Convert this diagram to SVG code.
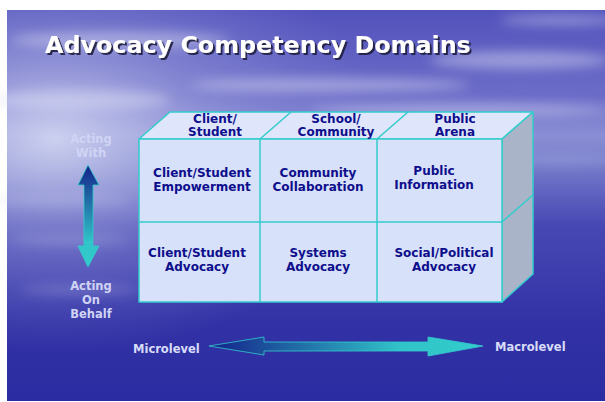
<svg xmlns="http://www.w3.org/2000/svg" width="605" height="402" viewBox="0 0 605 402">
<defs>
<linearGradient id="bg" x1="0" y1="0" x2="0" y2="1">
<stop offset="0" stop-color="#5252bc"/>
<stop offset="0.22" stop-color="#6c6cc8"/>
<stop offset="0.32" stop-color="#8a8ed4"/>
<stop offset="0.38" stop-color="#7a80cc"/>
<stop offset="0.55" stop-color="#4848b4"/>
<stop offset="0.8" stop-color="#3232a6"/>
<stop offset="1" stop-color="#2c2ca2"/>
</linearGradient>
<radialGradient id="haze" cx="0.08" cy="0.33" r="0.55">
<stop offset="0" stop-color="#d8dcf4" stop-opacity="0.85"/>
<stop offset="0.5" stop-color="#b0b4e4" stop-opacity="0.35"/>
<stop offset="1" stop-color="#9094d8" stop-opacity="0"/>
</radialGradient>
<filter id="blur" x="-20%" y="-50%" width="140%" height="200%"><feGaussianBlur stdDeviation="6"/></filter>
<filter id="shadow" x="-5%" y="-20%" width="110%" height="150%"><feDropShadow dx="2" dy="2" stdDeviation="0.6" flood-color="#1a1a40" flood-opacity="0.9"/></filter>
<linearGradient id="vgrad" x1="0" y1="0" x2="0" y2="1">
<stop offset="0" stop-color="#14208a"/>
<stop offset="0.75" stop-color="#30c4c8"/>
<stop offset="1" stop-color="#33cccc"/>
</linearGradient>
<linearGradient id="hgrad" x1="0" y1="0" x2="1" y2="0">
<stop offset="0" stop-color="#14208a"/>
<stop offset="0.7" stop-color="#30c4c8"/>
<stop offset="1" stop-color="#33cccc"/>
</linearGradient>
<style>
.cell{font-family:"DejaVu Sans","Verdana",sans-serif;font-weight:bold;font-size:12px;fill:#0e0e8c;text-anchor:middle}
.side{font-family:"DejaVu Sans","Verdana",sans-serif;font-weight:bold;font-size:11.5px;fill:#d0d4f4;text-anchor:middle}
.lvl{font-family:"DejaVu Sans","Verdana",sans-serif;font-weight:bold;font-size:11.5px;fill:#d8dcf8}
.face{stroke:#33cccc;stroke-width:1.5;stroke-linejoin:round}
</style>
</defs>
<rect x="0" y="0" width="605" height="402" fill="#ffffff"/>
<g id="background">
<rect x="7" y="10" width="598" height="391" fill="url(#bg)"/>
<rect x="7" y="10" width="598" height="391" fill="url(#haze)"/>
<g filter="url(#blur)" fill="#e0e2f6" opacity="0.45">
<ellipse cx="120" cy="40" rx="110" ry="8"/>
<ellipse cx="330" cy="85" rx="140" ry="7"/>
<ellipse cx="520" cy="60" rx="90" ry="9"/>
<ellipse cx="460" cy="110" rx="150" ry="6"/>
<ellipse cx="80" cy="100" rx="90" ry="10"/>
<ellipse cx="560" cy="20" rx="60" ry="5"/>
</g>
<g filter="url(#blur)" fill="#c8ccf0" opacity="0.3">
<ellipse cx="60" cy="200" rx="70" ry="5"/>
<ellipse cx="70" cy="240" rx="60" ry="4"/>
<ellipse cx="560" cy="160" rx="60" ry="4"/>
<ellipse cx="80" cy="290" rx="60" ry="4"/>
</g>
</g>
<g id="title">
<text x="45" y="53" font-family="'DejaVu Sans','Verdana',sans-serif" font-weight="bold" font-size="23.8" fill="#ffffff" filter="url(#shadow)">Advocacy Competency Domains</text>
</g>
<g id="cube">
<polygon class="face" points="139,139 170,112 533,112 502,139" fill="#dfe6fb"/>
<polygon class="face" points="502,139 533,112 533,274 502,302" fill="#aab4c9"/>
<rect class="face" x="139" y="139" width="363" height="163" fill="#d7e1f9"/>
<g fill="none" stroke="#33cccc" stroke-width="1.5">
<line x1="260" y1="139" x2="291" y2="112"/>
<line x1="377" y1="139" x2="408" y2="112"/>
<line x1="260" y1="139" x2="260" y2="302"/>
<line x1="377" y1="139" x2="377" y2="302"/>
<line x1="139" y1="222" x2="502" y2="222"/>
<line x1="502" y1="222" x2="533" y2="195"/>
</g>
</g>
<g id="head-client">
<text class="cell" x="215" y="123">Client/</text>
<text class="cell" x="215" y="136">Student</text>
</g>
<g id="head-school">
<text class="cell" x="336" y="123">School/</text>
<text class="cell" x="336" y="136">Community</text>
</g>
<g id="head-public">
<text class="cell" x="455" y="123">Public</text>
<text class="cell" x="455" y="136">Arena</text>
</g>
<g id="cell-empowerment">
<text class="cell" x="202" y="177">Client/Student</text>
<text class="cell" x="202" y="191">Empowerment</text>
</g>
<g id="cell-collaboration">
<text class="cell" x="318" y="177">Community</text>
<text class="cell" x="318" y="191">Collaboration</text>
</g>
<g id="cell-information">
<text class="cell" x="434" y="175">Public</text>
<text class="cell" x="434" y="189">Information</text>
</g>
<g id="cell-client-advocacy">
<text class="cell" x="197" y="257">Client/Student</text>
<text class="cell" x="197" y="271">Advocacy</text>
</g>
<g id="cell-systems">
<text class="cell" x="318" y="257">Systems</text>
<text class="cell" x="318" y="271">Advocacy</text>
</g>
<g id="cell-social">
<text class="cell" x="444" y="257">Social/Political</text>
<text class="cell" x="444" y="271">Advocacy</text>
</g>
<g id="label-with">
<text class="side" x="91" y="143">Acting</text>
<text class="side" x="91" y="157">With</text>
</g>
<g id="label-behalf">
<text class="side" x="91" y="290">Acting</text>
<text class="side" x="91" y="304">On</text>
<text class="side" x="91" y="318">Behalf</text>
</g>
<g id="label-micro"><text class="lvl" x="133" y="353">Microlevel</text></g>
<g id="label-macro"><text class="lvl" x="495" y="351">Macrolevel</text></g>
<g id="connectors">
<polygon points="88,165 99,185 93,185 93,246 99,246 88,267 78,246 84,246 84,185 78,185" fill="url(#vgrad)" stroke="#33cccc" stroke-width="0.8" stroke-linejoin="round"/>
<polygon points="209,346 264,337 264,342 428,342 428,337 483,346 428,356 428,351 264,351 264,355" fill="url(#hgrad)" stroke="#33cccc" stroke-width="0.8" stroke-linejoin="round"/>
</g>
</svg>
